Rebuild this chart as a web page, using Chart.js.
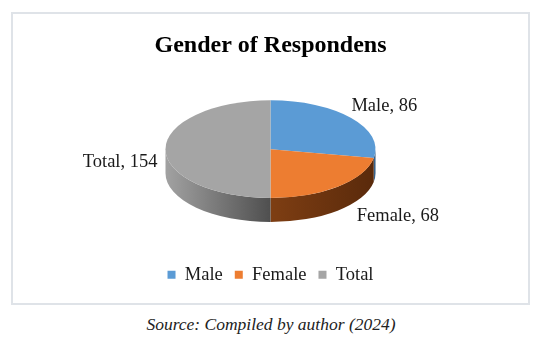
<!DOCTYPE html>
<html>
<head>
<meta charset="utf-8">
<script src="https://cdn.jsdelivr.net/npm/chart.js@4.4.1/dist/chart.umd.min.js"></script>
<style>
    body { margin: 0; background: #fff; width: 542px; height: 345px; position: relative; overflow: hidden; }
    #box { position: absolute; left: 11px; top: 12px; width: 519px; height: 293px; border: 2px solid #dfe3e8; box-sizing: border-box; }
    #source { position: absolute; left: 0; width: 542px; top: 314px; text-align: center; font: italic 17.5px 'Liberation Serif', serif; color: #222; }
</style>
</head>
<body>
<div id="box"><canvas id="genderChart" width="515" height="289"></canvas></div>
<div id="source">Source: Compiled by author (2024)</div>
<script>
// 데이터
var categories = ['Male', 'Female', 'Total'];
var respondents = [86, 68, 154];

// 색상 (윗면 / 옆면 왼쪽→오른쪽)
var topColors = ['#5b9bd5', '#ed7d31', '#a5a5a5'];
var sideColors = [['#3f6f9c', '#2c5278'], ['#7e3e13', '#5a2a0b'], ['#a2a2a2', '#4f4f4f']];

var TILT = 0.465;         // 타원 세로/가로 비율
var DEPTH = 24;           // 원판 두께
var PIE_OFFSET_Y = -7.5;  // 원 중심 위치 보정

// 3D 파이 효과 플러그인
var pie3d = {
    id: 'pie3d',
    beforeDatasetsDraw: function(chart) {
        var ctx = chart.ctx;
        var arcs = chart.getDatasetMeta(0).data;
        var cx = arcs[0].x, cy = arcs[0].y + PIE_OFFSET_Y;
        var r = arcs[0].outerRadius, ry = r * TILT;

        // 옆면: 앞쪽 반(0 ~ PI)만 보임
        arcs.forEach(function(arc, i) {
            var a1 = Math.max(arc.startAngle, 0);
            var a2 = Math.min(arc.endAngle, Math.PI);
            if (a2 <= a1) return;
            var x1 = cx + r * Math.cos(a1), x2 = cx + r * Math.cos(a2);
            var g = ctx.createLinearGradient(Math.min(x1, x2), 0, Math.max(x1, x2), 0);
            g.addColorStop(0, sideColors[i][0]);
            g.addColorStop(1, sideColors[i][1]);
            ctx.beginPath();
            ctx.ellipse(cx, cy, r, ry, 0, a1, a2);
            ctx.ellipse(cx, cy + DEPTH, r, ry, 0, a2, a1, true);
            ctx.closePath();
            ctx.fillStyle = g;
            ctx.fill();
        });

        ctx.save();
        ctx.translate(cx, cy);
        ctx.scale(1, TILT);
        ctx.translate(-cx, -arcs[0].y);
    },
    afterDatasetsDraw: function(chart) {
        var ctx = chart.ctx;
        ctx.restore();

        var arcs = chart.getDatasetMeta(0).data;
        var cx = arcs[0].x, cy = arcs[0].y + PIE_OFFSET_Y;
        var r = arcs[0].outerRadius, ry = r * TILT;
        var nudge = [[-6, -7], [14, 5], [0, 13]];

        ctx.save();
        ctx.font = '18.5px "Liberation Serif", serif';
        ctx.fillStyle = '#1a1a1a';
        ctx.textBaseline = 'middle';
        arcs.forEach(function(arc, i) {
            var m = (arc.startAngle + arc.endAngle) / 2;
            var c = Math.cos(m), s = Math.sin(m);
            var x = cx + (r + 8) * c;
            var y = cy + (ry + 8) * s + (s > 0 ? DEPTH * s : 0);
            ctx.textAlign = c >= 0 ? 'left' : 'right';
            ctx.fillText(categories[i] + ', ' + respondents[i], x + nudge[i][0], y + nudge[i][1]);
        });
        ctx.restore();
    }
};

var ctx = document.getElementById('genderChart').getContext('2d');
var genderChart = new Chart(ctx, {
    type: 'pie',
    data: {
        labels: categories,
        datasets: [{
            data: respondents,
            backgroundColor: topColors,
            borderWidth: 0,
            radius: 105,
            clip: false
        }]
    },
    options: {
        responsive: false,
        animation: false,
        events: [],
        layout: { padding: { bottom: 9 } },
        plugins: {
            title: {
                display: true,
                text: 'Gender of Respondens',
                color: '#000',
                font: { family: 'Liberation Serif', size: 24, weight: 'bold' },
                padding: { top: 17, bottom: 0 }
            },
            legend: {
                position: 'bottom',
                labels: {
                    boxWidth: 8,
                    boxHeight: 8,
                    padding: 12,
                    color: '#1a1a1a',
                    font: { family: 'Liberation Serif', size: 18.5 }
                }
            },
            tooltip: { enabled: false }
        }
    },
    plugins: [pie3d]
});
</script>
</body>
</html>
